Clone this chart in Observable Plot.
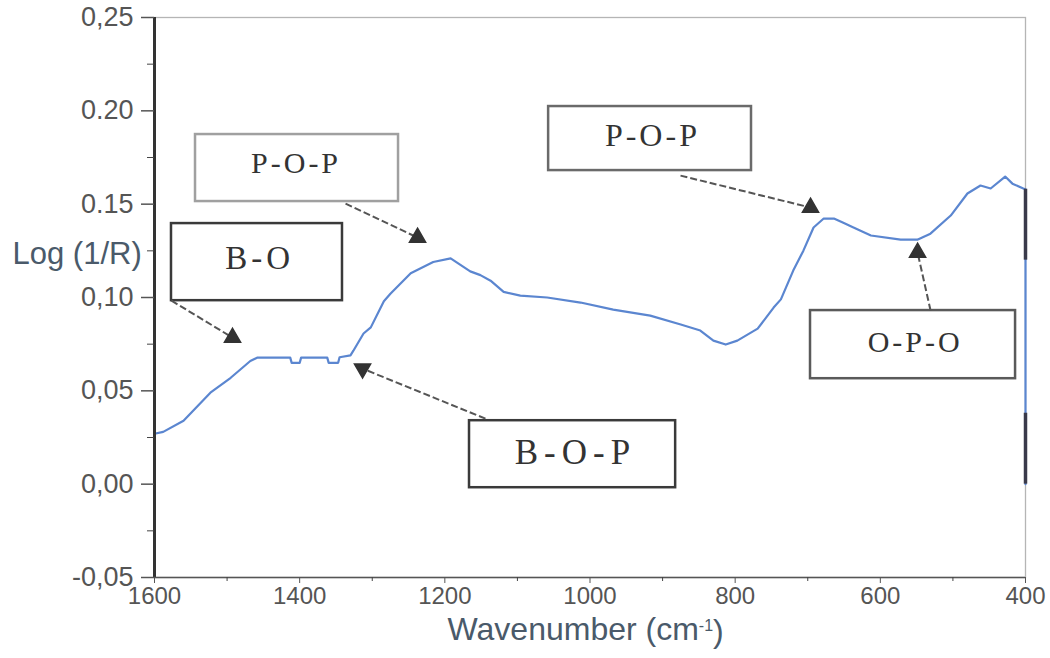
<!DOCTYPE html>
<html>
<head>
<meta charset="utf-8">
<script src="https://cdn.jsdelivr.net/npm/d3@7"></script>
<script src="https://cdn.jsdelivr.net/npm/@observablehq/plot@0.6"></script>
<style>
  html, body { margin: 0; padding: 0; background: #fff; }
  #chart { width: 1050px; height: 658px; overflow: hidden; }
</style>
</head>
<body>
<div id="chart"></div>
<script>
// ---- spectrum (wavenumber in cm-1, Log(1/R)) ----
const wavenumber = [1600, 1588, 1560, 1523, 1495, 1468, 1458, 1413, 1411, 1400, 1398, 1362, 1360, 1347, 1345, 1330,
  1326, 1312, 1302, 1284, 1275, 1247, 1216, 1192, 1165, 1151, 1137, 1119, 1096, 1059, 1013, 968, 917, 875, 848,
  830, 813, 797, 769, 747, 737, 720, 706, 692, 678, 664, 651, 637, 613, 572, 549, 531, 503, 480, 462, 448, 428,
  418, 403, 400, 400];
const logInvR = [0.027, 0.028, 0.034, 0.049, 0.057, 0.066, 0.0678, 0.0678, 0.065, 0.065, 0.0678, 0.0678, 0.065, 0.065, 0.068, 0.069,
  0.0715, 0.0807, 0.084, 0.098, 0.102, 0.113, 0.119, 0.121, 0.114, 0.112, 0.109, 0.103, 0.101, 0.100, 0.0973, 0.0935, 0.0903, 0.0855, 0.0823,
  0.0769, 0.0748, 0.0769, 0.0833, 0.0946, 0.099, 0.1144, 0.1251, 0.1375, 0.1423, 0.1423, 0.140, 0.1375, 0.1332, 0.131, 0.131, 0.1342, 0.1439, 0.1557, 0.160, 0.1584, 0.1648,
  0.161, 0.1584, 0.158, 0.0];

// dark segments on the right edge (at 400 cm-1)
const edgeY1 = [0.158, 0.038];
const edgeY2 = [0.120, 0.000];

// ---- axes ----
const xTicks = [1600, 1400, 1200, 1000, 800, 600, 400];
const xTickLabels = ["1600", "1400", "1200", "1000", "800", "600", "400"];
const xMinor = [1500, 1300, 1100, 900, 700, 500];
const yTicks = [-0.05, 0, 0.05, 0.10, 0.15, 0.20, 0.25];
const yTickLabels = ["-0,05", "0,00", "0,05", "0,10", "0.15", "0.20", "0,25"];
const yMinor = [-0.025, 0.025, 0.075, 0.125, 0.175, 0.225];
const xTitleMain = "Wavenumber (cm";
const xTitleSup = "-1";
const xTitleEnd = ")";
const yTitle = "Log (1/R)";

// ---- annotations (data coordinates) ----
const boxLabels = ["P-O-P", "B-O", "B-O-P", "P-O-P", "O-P-O"];
const boxX1 = [1543.5, 1576.6, 1166, 1057, 696.2];
const boxX2 = [1263.8, 1341, 882, 777.5, 413.7];
const boxY1 = [0.1514, 0.0983, -0.0019, 0.168, 0.0565];
const boxY2 = [0.1873, 0.1396, 0.034, 0.2023, 0.093];
const boxTextX = [1405, 1455, 1020, 914, 552];
const boxTextY = [0.1718, 0.1208, 0.0169, 0.1868, 0.0758];
const arrowFromX = [1336.8, 1576.6, 1144, 875.3, 530.8];
const arrowFromY = [0.1503, 0.0983, 0.0351, 0.1653, 0.093];
const arrowToX = [1237.6, 1492.5, 1313.4, 696.2, 548.7];
const arrowToY = [0.1321, 0.0785, 0.0619, 0.1482, 0.1241];
const arrowHeadRotate = [0, 0, 180, 0, 0];

// styles
const boxStroke = ["#a0a0a0", "#3a3a3a", "#3a3a3a", "#6a6a6a", "#5a5a5a"];
const boxStrokeWidth = [2.5, 2.5, 2.5, 2.5, 2.5];
const boxFontSize = [30, 33, 35, 32, 30];
const boxLetterSpacing = [3, 4, 6, 3, 3];

const spectrum = wavenumber.map((w, i) => ({w, v: logInvR[i]}));
const idx = boxLabels.map((_, i) => i);

const boxMarks = idx.flatMap(i => [
  Plot.rect([i], {x1: d => boxX1[d], x2: d => boxX2[d], y1: d => boxY1[d], y2: d => boxY2[d],
    fill: "white", stroke: boxStroke[i], strokeWidth: boxStrokeWidth[i]}),
  Plot.text([i], {x: d => boxTextX[d], y: d => boxTextY[d], text: d => boxLabels[d],
    fontFamily: "Liberation Serif, Times New Roman, serif", fontSize: boxFontSize[i], fill: "#333"})
]);

const chart = Plot.plot({
  width: 1050,
  height: 658,
  marginLeft: 154,
  marginRight: 25,
  marginTop: 17,
  marginBottom: 81,
  style: {fontFamily: "Liberation Sans, Arial, sans-serif", background: "white", overflow: "visible"},
  x: {domain: [1600, 400]},
  y: {domain: [-0.05, 0.25]},
  marks: [
    Plot.frame({stroke: "#b5b5b5", strokeWidth: 1.3}),
    ...boxMarks,
    Plot.link(idx, {x1: d => arrowFromX[d], y1: d => arrowFromY[d], x2: d => arrowToX[d], y2: d => arrowToY[d],
      stroke: "#555", strokeWidth: 2, strokeDasharray: "7,3"}),
    Plot.dot(idx, {x: d => arrowToX[d], y: d => arrowToY[d], symbol: "triangle", r: 6,
      fill: "#333", stroke: "#333", rotate: d => arrowHeadRotate[d]}),
    Plot.line(spectrum, {x: "w", y: "v", stroke: "#5b86d0", strokeWidth: 2.2}),
    Plot.ruleX([0, 1], {x: () => 400, y1: (d, i) => edgeY1[i], y2: (d, i) => edgeY2[i], stroke: "#3a3a4a", strokeWidth: 3.5}),
    Plot.ruleX([1600], {stroke: "#333", strokeWidth: 3}),
    Plot.ruleY([-0.05], {stroke: "#555", strokeWidth: 1.5}),
    Plot.axisY({ticks: yMinor, tickSize: 7, tickFormat: () => "", color: "#444", label: null}),
    Plot.axisY({ticks: yTicks, tickSize: 13, tickPadding: 8, strokeWidth: 1.5,
      tickFormat: d => yTickLabels[yTicks.indexOf(d)], fontSize: 27, color: "#555", label: null}),
    Plot.axisX({ticks: xMinor, tickSize: 4, tickFormat: () => "", color: "#444", label: null}),
    Plot.axisX({ticks: xTicks, tickSize: 6, tickPadding: 3,
      tickFormat: d => xTickLabels[xTicks.indexOf(d)], fontSize: 24, color: "#555", label: null}),
    Plot.text([yTitle], {frameAnchor: "left", y: () => 0.123, dx: -142, textAnchor: "start",
      fontSize: 31, fill: "#4a5a6a", text: d => d}),
    Plot.text([xTitleMain], {frameAnchor: "bottom", x: () => 1006, dy: 62, fontSize: 32,
      fill: "#4a5a6a", text: d => d})
  ]
});

// letter spacing for the box labels (in order of appearance)
{
  let k = 0;
  d3.select(chart).selectAll("text").each(function () {
    if (k < boxLabels.length && this.textContent === boxLabels[k]) {
      this.setAttribute("letter-spacing", boxLetterSpacing[k] + "px");
      k++;
    }
  });
  // superscript in the x-axis title
  d3.select(chart).selectAll("text").filter(function () { return this.textContent === xTitleMain; })
    .each(function () {
      const t = d3.select(this);
      t.append("tspan").attr("dy", "-0.55em").attr("font-size", "0.5em").text(xTitleSup);
      t.append("tspan").attr("dy", "0.36em").text(xTitleEnd);
    });
}

document.getElementById("chart").appendChild(chart);
</script>
</body>
</html>
